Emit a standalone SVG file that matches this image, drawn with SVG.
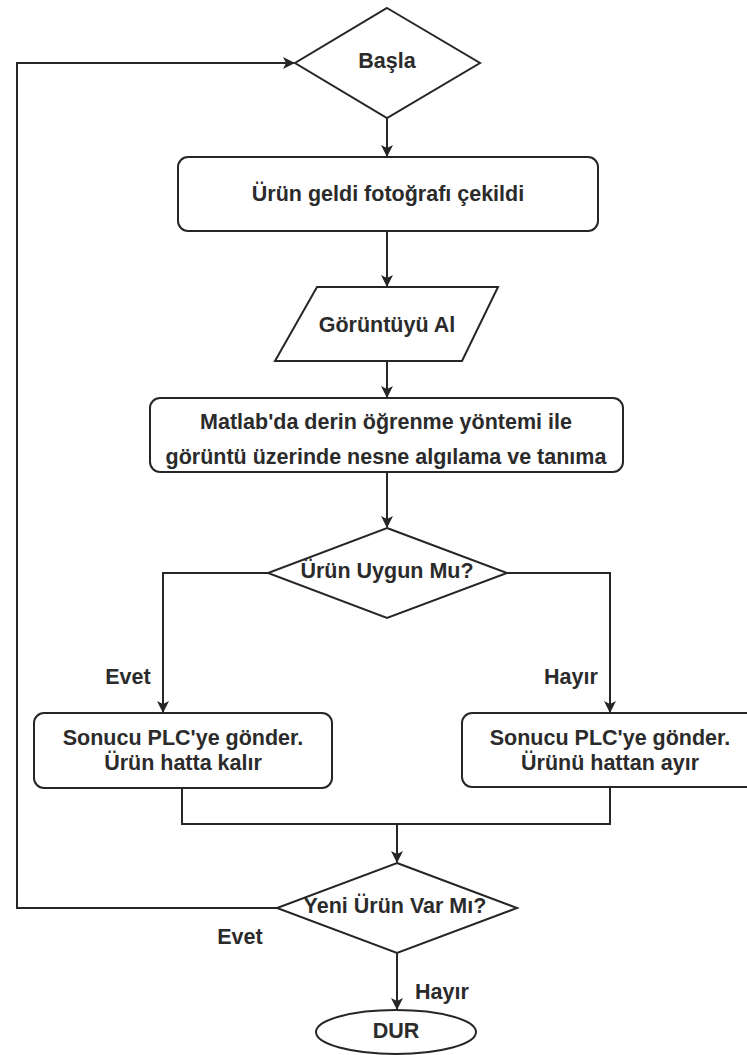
<svg xmlns="http://www.w3.org/2000/svg" width="747" height="1055" viewBox="0 0 747 1055">
  <style>
    .shape { fill: #ffffff; stroke: #262626; stroke-width: 2; }
    .edge { fill: none; stroke: #262626; stroke-width: 2; }
    .label { font-family: "Liberation Sans", Arial, sans-serif; font-size: 21.5px; font-weight: bold; fill: #2b2b2b; text-anchor: middle; dominant-baseline: central; }
  </style>
  <defs>
    <marker id="arrow" viewBox="0 0 12 12" refX="11" refY="6" markerWidth="12" markerHeight="12" markerUnits="userSpaceOnUse" orient="auto">
      <path d="M0,0 L12,6 L0,12 L3,6 z" fill="#262626"/>
    </marker>
  </defs>

  <rect width="747" height="1055" fill="#ffffff"/>

  <!-- connectors -->
  <g id="connectors">
    <path class="edge" d="M387,118 V156" marker-end="url(#arrow)"/>
    <path class="edge" d="M387,231 V286" marker-end="url(#arrow)"/>
    <path class="edge" d="M387,361 V397" marker-end="url(#arrow)"/>
    <path class="edge" d="M387,472 V527" marker-end="url(#arrow)"/>
    <path class="edge" d="M268,573 H163 V712" marker-end="url(#arrow)"/>
    <path class="edge" d="M507,573 H610 V712" marker-end="url(#arrow)"/>
    <path class="edge" d="M182,788 V824 H610 V787"/>
    <path class="edge" d="M397,824 V862" marker-end="url(#arrow)"/>
    <path class="edge" d="M277,908 H17 V63 H294" marker-end="url(#arrow)"/>
    <path class="edge" d="M397,953 V1009" marker-end="url(#arrow)"/>
    <text class="label" x="128" y="677">Evet</text>
    <text class="label" x="571" y="677">Hayır</text>
    <text class="label" x="240" y="937">Evet</text>
    <text class="label" x="442" y="992">Hayır</text>
  </g>

  <!-- nodes -->
  <g id="start">
    <polygon class="shape" points="387,8 480,63 387,118 295,63"/>
    <text class="label" x="387" y="61">Başla</text>
  </g>
  <g id="capture">
    <rect class="shape" x="178" y="157" width="420" height="74" rx="10"/>
    <text class="label" x="388" y="194">Ürün geldi fotoğrafı çekildi</text>
  </g>
  <g id="get-image">
    <polygon class="shape" points="317,287 498,287 462,361 275,361"/>
    <text class="label" x="387" y="325">Görüntüyü Al</text>
  </g>
  <g id="detect">
    <rect class="shape" x="150" y="398" width="473" height="74" rx="10"/>
    <text class="label" x="386" y="422">Matlab'da derin öğrenme yöntemi ile</text>
    <text class="label" x="386" y="457">görüntü üzerinde nesne algılama ve tanıma</text>
  </g>
  <g id="check">
    <polygon class="shape" points="387,528 507,573 387,618 268,573"/>
    <text class="label" x="387" y="571">Ürün Uygun Mu?</text>
  </g>
  <g id="keep">
    <rect class="shape" x="34" y="713" width="298" height="75" rx="10"/>
    <text class="label" x="183" y="738">Sonucu PLC'ye gönder.</text>
    <text class="label" x="183" y="763">Ürün hatta kalır</text>
  </g>
  <g id="reject">
    <rect class="shape" x="462" y="713" width="297" height="74" rx="10"/>
    <text class="label" x="610" y="738">Sonucu PLC'ye gönder.</text>
    <text class="label" x="610" y="763">Ürünü hattan ayır</text>
  </g>
  <g id="next">
    <polygon class="shape" points="397,863 517,908 397,953 277,908"/>
    <text class="label" x="395" y="906">Yeni Ürün Var Mı?</text>
  </g>
  <g id="stop">
    <ellipse class="shape" cx="396" cy="1032" rx="80" ry="22"/>
    <text class="label" x="396" y="1031">DUR</text>
  </g>
</svg>
